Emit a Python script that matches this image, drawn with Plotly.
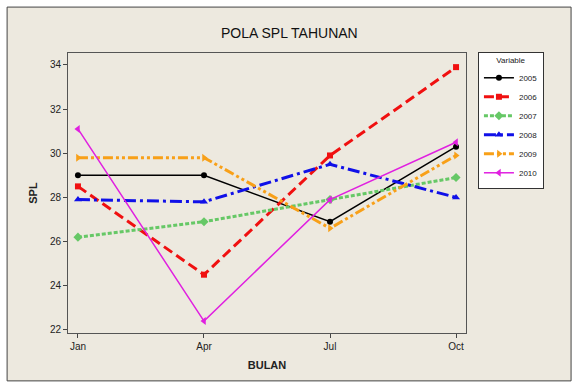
import plotly.graph_objects as go

months = ["Jan", "Apr", "Jul", "Oct"]
years = ["2005", "2006", "2007", "2008", "2009", "2010"]
spl_2005 = [29.0, 29.0, 26.9, 30.3]
spl_2006 = [28.5, 24.5, 29.9, 33.9]
spl_2007 = [26.2, 26.9, 27.9, 28.9]
spl_2008 = [27.9, 27.8, 29.5, 28.0]
spl_2009 = [29.8, 29.8, 26.6, 29.9]
spl_2010 = [31.1, 22.4, 27.9, 30.5]
y_ticks = [22, 24, 26, 28, 30, 32, 34]

series = [spl_2005, spl_2006, spl_2007, spl_2008, spl_2009, spl_2010]
styles = [
    dict(color="#000000", width=1.5, dash="solid", symbol="circle", size=6),
    dict(color="#F01010", width=3, dash="10px,5px", symbol="square", size=6),
    dict(color="#66C866", width=3, dash="4px,2px", symbol="diamond", size=7),
    dict(color="#1010E8", width=3, dash="12px,4px,3px,4px", symbol="triangle-up", size=7),
    dict(color="#F8A018", width=3, dash="10px,3px,3px,3px,3px,3px", symbol="triangle-right", size=7),
    dict(color="#E020E0", width=1.5, dash="solid", symbol="triangle-left", size=7),
]

x_idx = list(range(len(months)))
fig = go.Figure()
for name, vals, s in zip(years, series, styles):
    fig.add_trace(go.Scatter(
        x=x_idx, y=vals, name=name, mode="lines+markers",
        line=dict(color=s["color"], width=s["width"], dash=s["dash"]),
        marker=dict(color=s["color"], symbol=s["symbol"], size=s["size"]),
    ))

font_family = "Liberation Sans, Arial, sans-serif"
fig.update_layout(
    width=573, height=385,
    margin=dict(l=68, r=107, t=53, b=52, autoexpand=False),
    paper_bgcolor="white",
    plot_bgcolor="white",
    font=dict(family=font_family, size=10, color="#222"),
    title=dict(text="POLA SPL TAHUNAN", x=0.505, xanchor="center", y=0.915, yanchor="middle",
               font=dict(size=14, color="#111", family=font_family)),
    showlegend=True,
    legend=dict(
        title=dict(text="Variable", font=dict(size=8), side="top center"),
        font=dict(size=8), x=1.03, y=1.004, xanchor="left", yanchor="top",
        bgcolor="white", bordercolor="#333", borderwidth=1, tracegroupgap=0,
        itemwidth=30,
    ),
    shapes=[dict(type="rect", xref="paper", yref="paper", x0=-0.153, x1=1.264, y0=-0.171, y1=1.164,
                 fillcolor="#EDE9DF", line=dict(color="#444", width=1), layer="below")],
)
fig.update_xaxes(
    range=[-0.079, 3.079], tickvals=x_idx, ticktext=months, ticks="outside", ticklen=4,
    tickcolor="#444", showline=True, linecolor="#555", mirror=True, showgrid=False, zeroline=False,
    automargin=False,
    title=dict(text="<b>BULAN</b>", font=dict(size=11), standoff=10),
)
fig.update_yaxes(
    range=[21.86, 34.54], tickvals=y_ticks, ticks="outside", ticklen=4,
    tickcolor="#444", showline=True, linecolor="#555", mirror=True, showgrid=False, zeroline=False,
    automargin=False,
    title=dict(text="<b>SPL</b>", font=dict(size=11), standoff=10),
)
fig.write_html("out.html", config={"displayModeBar": False},
               post_script="document.body.style.margin='0';document.body.style.padding='0';")
